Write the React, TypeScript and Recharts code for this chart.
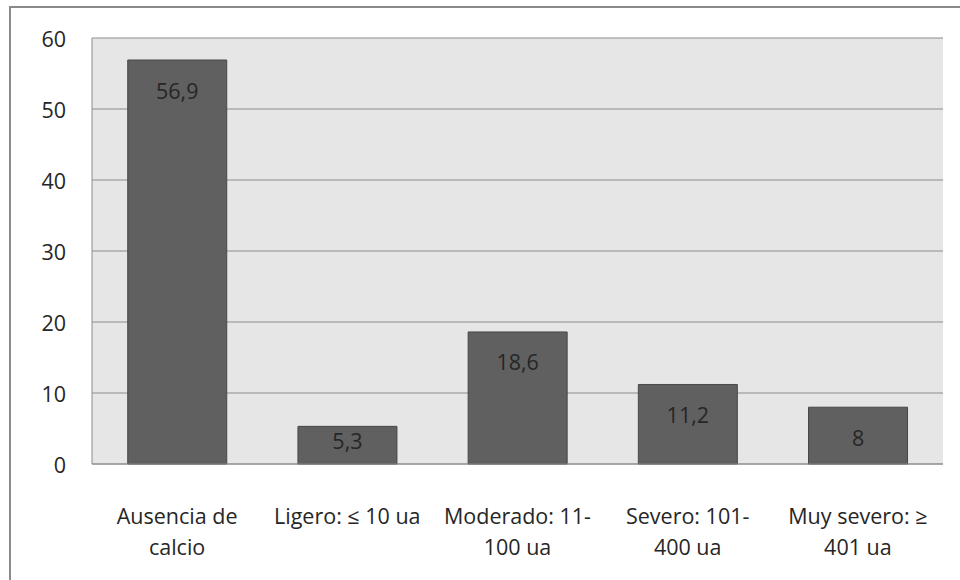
import React from "react";
import { BarChart, Bar, XAxis, YAxis, CartesianGrid, LabelList } from "recharts";

const categories = [
  "Ausencia de\ncalcio",
  "Ligero: ≤ 10 ua",
  "Moderado: 11-\n100 ua",
  "Severo: 101-\n400 ua",
  "Muy severo: ≥\n401 ua",
];
const values = [56.9, 5.3, 18.6, 11.2, 8];
const valueLabels = ["56,9", "5,3", "18,6", "11,2", "8"];
const yTicks = [0, 10, 20, 30, 40, 50, 60];

const data = categories.map((c, i) => ({ name: c, value: values[i], label: valueLabels[i] }));

const FONT = "'Open Sans', sans-serif";
const TEXT = "#262626";
const FS = 21.5;

const XTick = (props: any) => {
  const { x, y, payload } = props;
  const lines = String(payload.value).split("\n");
  return (
    <g>
      {lines.map((l: string, i: number) => (
        <text key={i} x={x} y={y + 52 + i * 31} textAnchor="middle" fill={TEXT} fontSize={FS} fontFamily={FONT}>
          {l}
        </text>
      ))}
    </g>
  );
};

const ValueLabel = (props: any) => {
  const { x, y, width, height, index } = props;
  const cy = Math.min(y + 30, y + height - 24);
  return (
    <text x={x + width / 2} y={cy} textAnchor="middle" dominantBaseline="central" fill={TEXT} fontSize={FS} fontFamily={FONT}>
      {valueLabels[index]}
    </text>
  );
};

const YTick = (props: any) => {
  const { x, y, payload } = props;
  return (
    <text x={x} y={y} textAnchor="end" dominantBaseline="central" fill={TEXT} fontSize={FS} fontFamily={FONT}>
      {payload.value}
    </text>
  );
};

export default function App() {
  return (
    <div style={{ position: "absolute", left: 0, top: 0, width: 960, height: 580, overflow: "hidden", background: "#fff" }}>
      <div style={{ position: "absolute", left: 9, top: 6, width: 1200, height: 1200, border: "2px solid #8a8a8a" }} />
      <div style={{ position: "absolute", left: 0, top: 0 }}>
        <BarChart width={960} height={580} data={data} margin={{ top: 38, right: 17, left: 0, bottom: 0 }} barCategoryGap="21%">
          <CartesianGrid vertical={false} stroke="#8c8c8c" fill="#E6E6E6" />
          <XAxis
            dataKey="name"
            height={116}
            interval={0}
            tickLine={false}
            axisLine={{ stroke: "#8c8c8c" }}
            tick={<XTick />}
          />
          <YAxis
            width={92}
            domain={[0, 60]}
            ticks={yTicks}
            tickLine={false}
            tickSize={0}
            tickMargin={26}
            axisLine={{ stroke: "#8c8c8c" }}
            tick={<YTick />}
          />
          <Bar dataKey="value" fill="#606060" stroke="#474747" strokeWidth={1} isAnimationActive={false}>
            <LabelList dataKey="label" content={<ValueLabel />} />
          </Bar>
        </BarChart>
      </div>
    </div>
  );
}
